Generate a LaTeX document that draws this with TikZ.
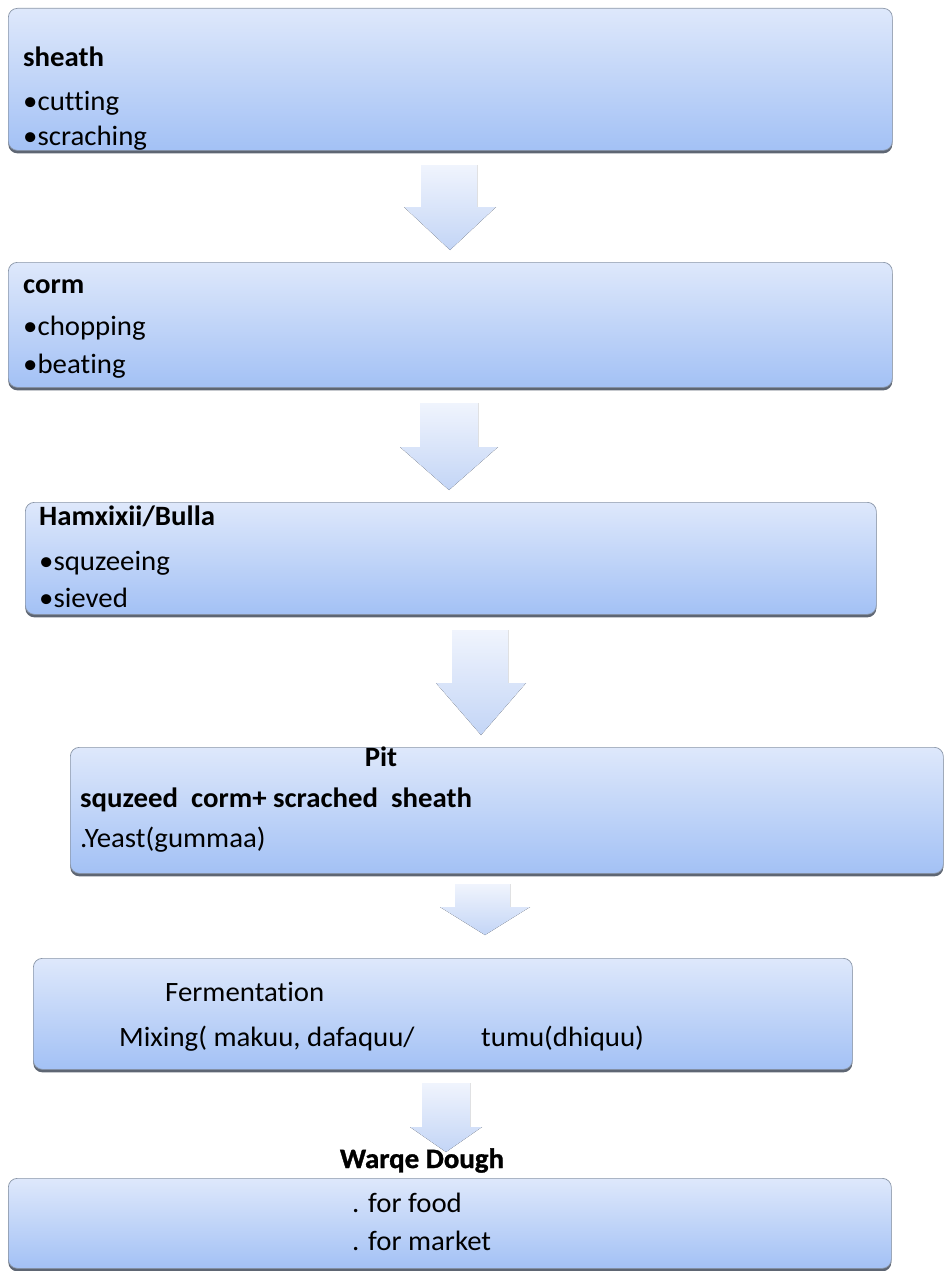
\documentclass[tikz,border=0pt]{standalone}
\usepackage{fontspec}
\setmainfont{Carlito}[FakeStretch=1.03, Ligatures={NoCommon}]
\newfontfamily\heavyfont{Carlito}[FakeStretch=1.03, FakeBold=1.2, Ligatures={NoCommon}]
\usetikzlibrary{shadows}
\tikzset{
  procbox/.style={rounded corners=9pt, top color=boxtop, bottom color=boxbot,
    draw=boxline, line width=0.7pt, anchor=north west, inner sep=0pt,
    drop shadow={shadow xshift=0pt, shadow yshift=-3pt, fill=shadowc, opacity=1}},
  txt/.style={anchor=base west, inner sep=0pt, font=\fontsize{28}{33}\selectfont},
  btxt/.style={txt, font=\fontsize{28}{33}\selectfont\bfseries},
  htxt/.style={txt, font=\fontsize{28}{33}\selectfont\heavyfont\bfseries},
  blockarrow/.style={top color=arrtop, bottom color=arrbot, draw=none}
}
\definecolor{boxtop}{HTML}{DEE8FB}
\definecolor{boxbot}{HTML}{A3C1F5}
\definecolor{boxline}{HTML}{8A96A8}
\definecolor{shadowc}{HTML}{5E6673}
\definecolor{arrtop}{HTML}{F0F4FD}
\definecolor{arrbot}{HTML}{C3D5F6}
\begin{document}
\begin{tikzpicture}[x=1pt,y=-1pt]
\useasboundingbox (0,0) rectangle (945,1271);
% boxes
\node[procbox, minimum width=884pt, minimum height=142pt] (b1) at (8,8) {};
\node[procbox, minimum width=884pt, minimum height=125pt] (b2) at (8,262) {};
\node[procbox, minimum width=851pt, minimum height=112pt] (b3) at (25,502) {};
\node[procbox, minimum width=873pt, minimum height=126pt] (b4) at (70,747) {};
\node[procbox, minimum width=819pt, minimum height=111pt] (b5) at (33,958) {};
\node[procbox, minimum width=883pt, minimum height=90pt] (b6) at (8,1178) {};
% block arrows
\fill[blockarrow] (421,165) -- (477,165) -- (477,207) -- (496,207) -- (450,250) -- (404,207) -- (421,207) -- cycle;
\fill[blockarrow] (420,403) -- (478,403) -- (478,447) -- (498,447) -- (449,490) -- (400,447) -- (420,447) -- cycle;
\fill[blockarrow] (452,630) -- (508,630) -- (508,683) -- (526,683) -- (481,735) -- (436,683) -- (452,683) -- cycle;
\fill[blockarrow] (455,884) -- (510,884) -- (510,907) -- (530,907) -- (485,935) -- (440,907) -- (455,907) -- cycle;
\fill[blockarrow] (422,1083) -- (470,1083) -- (470,1127) -- (482,1127) -- (446,1152) -- (410,1127) -- (422,1127) -- cycle;
% texts box 1
\node[btxt] (t1a) at (23,67) {sheath};
\node[txt] (t1b) at (23,111) {•cutting};
\node[txt] (t1c) at (23,146) {•scraching};
% box 2
\node[btxt] (t2a) at (23,293) {corm};
\node[txt] (t2b) at (23,335) {•chopping};
\node[txt] (t2c) at (23,373) {•beating};
% box 3
\node[btxt] (t3a) at (39,525) {Hamxixii/Bulla};
\node[txt] (t3b) at (39,570) {•squzeeing};
\node[txt] (t3c) at (39,607) {•sieved};
% box 4
\node[btxt, anchor=base] (t4a) at (381,766) {Pit};
\node[btxt] (t4b) at (80,807) {squzeed\ \ corm+ scrached\ \ sheath};
\node[txt] (t4c) at (80,847) {.Yeast(gummaa)};
% box 5
\node[txt] (t5a) at (165,1001) {Fermentation};
\node[txt] (t5b) at (119,1046) {Mixing( makuu, dafaquu/};
\node[txt] (t5c) at (481,1046) {tumu(dhiquu)};
% bottom
\node[htxt, anchor=base] (t6a) at (422,1168) {Warqe Dough};
\node[txt] (t6b) at (352,1212) {. for food};
\node[txt] (t6c) at (352,1250) {. for market};
\end{tikzpicture}
\end{document}
